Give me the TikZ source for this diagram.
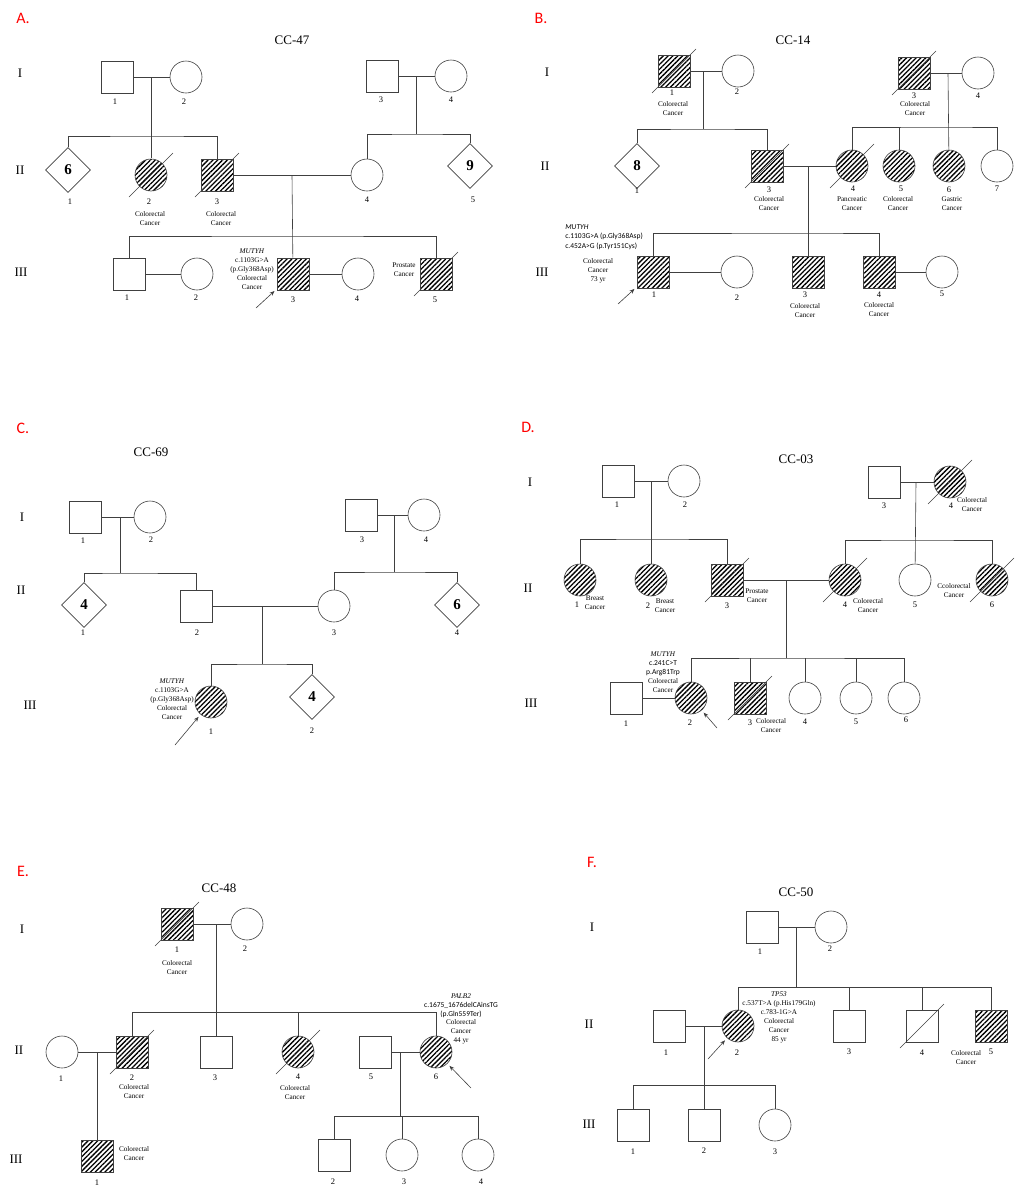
\documentclass[tikz,border=0pt]{standalone}
\usepackage{fontspec}
\setmainfont{Liberation Serif}
\newfontfamily\carl{Carlito}
\usetikzlibrary{shapes.geometric,patterns.meta,arrows.meta}
\tikzset{
  male/.style={draw,rectangle,minimum size=32pt,inner sep=0pt},
  female/.style={draw,circle,minimum size=32pt,inner sep=0pt},
  unk/.style={draw,diamond,minimum size=45pt,inner sep=0pt,font=\fontsize{15}{15}\selectfont\bfseries},
  aff/.style={pattern={Lines[angle=45,distance=3.4pt,line width=1.3pt]}},
  num/.style={font=\fontsize{8.5}{8.5}\selectfont,inner sep=0pt},
  note/.style={font=\fontsize{7.2}{9}\selectfont,align=center,inner sep=0pt},
  gen/.style={font=\fontsize{13}{13}\selectfont,inner sep=0pt},
  ttl/.style={font=\fontsize{13}{13}\selectfont,inner sep=0pt},
  panel/.style={font=\carl\fontsize{16}{16}\selectfont,text=red,inner sep=0pt},
  pb/.style={-{Stealth[length=5pt,width=4pt]},shorten >=3pt}
}
\newcommand{\dec}[1]{\draw (#1.center) ++(-22,22) -- ++(44,-44);}
\begin{document}
\begin{tikzpicture}[x=1pt,y=-1pt,line width=0.6pt,every path/.style={draw=black!75}]
\path[use as bounding box,draw=none] (0,0) rectangle (1023,1200);
% ---------- A: CC-47
\node[panel] (pA) at (23,18) {A.};
\node[ttl] (tA) at (292,40) {CC-47};
\node[gen] (gA1) at (20,73) {I};
\node[gen] (gA2) at (20,170) {II};
\node[gen] (gA3) at (21,272) {III};
\node[male] (A11) at (117,77) {};
\node[female] (A12) at (186,77) {};
\node[male] (A13) at (382,76) {};
\node[female] (A14) at (451,76) {};
\node[unk] (A21) at (68,170) {6};
\node[female,aff] (A22) at (151,175) {};
\node[male,aff] (A23) at (217,175) {};
\node[female] (A24) at (367,175) {};
\node[unk] (A25) at (470,166) {9};
\node[male] (A31) at (129,274) {};
\node[female] (A32) at (197,274) {};
\node[male,aff] (A33) at (293,274) {};
\node[female] (A34) at (358,274) {};
\node[male,aff] (A35) at (436,274) {};
\dec{A22}\dec{A23}\dec{A35}
\coordinate (Am1) at (151,77); \coordinate (As1) at (151,136);
\coordinate (Am2) at (416,76); \coordinate (As2) at (416,134);
\coordinate (Am3) at (292,175); \coordinate (As3) at (292,236);
\draw (A11) -- (A12); \draw (A13) -- (A14);
\draw (Am1) -- (A22); \draw (A21) |- (As1) -| (A23);
\draw (Am2) -- (As2); \draw (A24) |- (As2) -| (A25);
\draw (A23) -- (A24); \draw (Am3) -- (A33);
\draw (A31) |- (As3) -| (A35);
\draw (A31) -- (A32); \draw (A33) -- (A34);
\coordinate (Aa) at (256,308); \draw[pb] (Aa) -- (A33);
\node[num] (nA11) at (115,102) {1};
\node[num] (nA12) at (184,102) {2};
\node[num] (nA13) at (381,100) {3};
\node[num] (nA14) at (451,100) {4};
\node[num] (nA21) at (70,202) {1};
\node[num] (nA22) at (149,202) {2};
\node[num] (nA23) at (217,202) {3};
\node[num] (nA24) at (367,200) {4};
\node[num] (nA25) at (473,200) {5};
\node[num] (nA31) at (127,298) {1};
\node[num] (nA32) at (196,298) {2};
\node[num] (nA33) at (293,300) {3};
\node[num] (nA34) at (357,299) {4};
\node[num] (nA35) at (435,300) {5};
\node[note] (xA22) at (150,219) {Colorectal\\Cancer};
\node[note] (xA23) at (221,219) {Colorectal\\Cancer};
\node[note] (xA33) at (252,269) {\textit{MUTYH}\\c.1103G>A\\(p.Gly368Asp)\\Colorectal\\Cancer};
\node[note] (xA35) at (404,270) {Prostate\\Cancer};
% ---------- B: CC-14
\node[panel] (pB) at (541,18) {B.};
\node[ttl] (tB) at (793,40) {CC-14};
\node[gen] (gB1) at (547,72) {I};
\node[gen] (gB2) at (545,166) {II};
\node[gen] (gB3) at (542,272) {III};
\node[male,aff] (B11) at (674,71) {};
\node[female] (B12) at (738,71) {};
\node[male,aff] (B13) at (914,73) {};
\node[female] (B14) at (978,73) {};
\node[unk] (B21) at (637,166) {8};
\node[male,aff] (B23) at (767,166) {};
\node[female,aff] (B24) at (852,166) {};
\node[female,aff] (B25) at (899,166) {};
\node[female,aff] (B26) at (949,166) {};
\node[female] (B27) at (997,166) {};
\node[male,aff] (B31) at (653,272) {};
\node[female] (B32) at (737,272) {};
\node[male,aff] (B33) at (808,272) {};
\node[male,aff] (B34) at (879,272) {};
\node[female] (B35) at (942,272) {};
\dec{B11}\dec{B13}\dec{B23}\dec{B24}
\coordinate (Bm1) at (703,71); \coordinate (Bs1) at (703,129);
\coordinate (Bm2) at (948,73); \coordinate (Bs2) at (948,127);
\coordinate (Bm3) at (808,166); \coordinate (Bs3) at (808,233);
\draw (B11) -- (B12); \draw (B13) -- (B14);
\draw (Bm1) -- (Bs1); \draw (B21) |- (Bs1) -| (B23);
\draw (Bm2) -- (B26); \draw (B24) |- (Bs2) -| (B27); \draw (B25) -- (B25 |- Bs2);
\draw (B23) -- (B24); \draw (Bm3) -- (B33);
\draw (B31) |- (Bs3) -| (B34);
\draw (B31) -- (B32); \draw (B34) -- (B35);
\coordinate (Ba) at (618,304); \draw[pb] (Ba) -- (B31);
\node[num] (nB11) at (672,93) {1};
\node[num] (nB12) at (737,92) {2};
\node[num] (nB13) at (914,96) {3};
\node[num] (nB14) at (978,96) {4};
\node[num] (nB21) at (637,191) {1};
\node[num] (nB23) at (769,190) {3};
\node[num] (nB24) at (853,189) {4};
\node[num] (nB25) at (901,189) {5};
\node[num] (nB26) at (949,190) {6};
\node[num] (nB27) at (997,189) {7};
\node[num] (nB31) at (654,295) {1};
\node[num] (nB32) at (737,298) {2};
\node[num] (nB33) at (805,295) {3};
\node[num] (nB34) at (879,295) {4};
\node[num] (nB35) at (942,294) {5};
\node[note] (xB11) at (673,109) {Colorectal\\Cancer};
\node[note] (xB13) at (915,109) {Colorectal\\Cancer};
\node[note] (xB23) at (769,204) {Colorectal\\Cancer};
\node[note] (xB24) at (852,204) {Pancreatic\\Cancer};
\node[note] (xB25) at (898,204) {Colorectal\\Cancer};
\node[note] (xB26) at (952,204) {Gastric\\Cancer};
\node[note,align=left,anchor=north west,font=\carl\fontsize{7.5}{9.5}\selectfont] (xB31) at (565,224) {\textit{MUTYH}\\c.1103G>A (p.Gly368Asp)\\c.452A>G (p.Tyr151Cys)};
\node[note] (xB31b) at (598,271) {Colorectal\\Cancer\\73 yr};
\node[note] (xB33) at (805,311) {Colorectal\\Cancer};
\node[note] (xB34) at (879,310) {Colorectal\\Cancer};
% ---------- C: CC-69
\node[panel] (pC) at (23,428) {C.};
\node[ttl] (tC) at (151,452) {CC-69};
\node[gen] (gC1) at (22,517) {I};
\node[gen] (gC2) at (21,590) {II};
\node[gen] (gC3) at (30,705) {III};
\node[male] (C11) at (85,517) {};
\node[female] (C12) at (150,517) {};
\node[male] (C13) at (361,515) {};
\node[female] (C14) at (424,515) {};
\node[unk] (C21) at (84,605) {4};
\node[male] (C22) at (196,606) {};
\node[female] (C23) at (334,606) {};
\node[unk] (C24) at (457,605) {6};
\node[female,aff] (C31) at (211,702) {};
\node[unk] (C32) at (312,697) {4};
\coordinate (Cm1) at (120,517); \coordinate (Cs1) at (120,573);
\coordinate (Cm2) at (394,515); \coordinate (Cs2) at (394,572);
\coordinate (Cm3) at (262,606); \coordinate (Cs3) at (262,664);
\draw (C11) -- (C12); \draw (C13) -- (C14);
\draw (Cm1) -- (Cs1); \draw (C21) |- (Cs1) -| (C22);
\draw (Cm2) -- (Cs2); \draw (C23) |- (Cs2) -| (C24);
\draw (C22) -- (C23); \draw (Cm3) -- (Cs3);
\draw (C31) |- (Cs3) -| (C32);
\coordinate (Ca) at (175,745); \draw[pb] (Ca) -- (C31);
\node[num] (nC11) at (83,541) {1};
\node[num] (nC12) at (151,540) {2};
\node[num] (nC13) at (362,540) {3};
\node[num] (nC14) at (426,540) {4};
\node[num] (nC21) at (83,633) {1};
\node[num] (nC22) at (197,633) {2};
\node[num] (nC23) at (334,633) {3};
\node[num] (nC24) at (457,633) {4};
\node[num] (nC31) at (211,732) {1};
\node[num] (nC32) at (312,731) {2};
\node[note] (xC31) at (172,699) {\textit{MUTYH}\\c.1103G>A\\(p.Gly368Asp)\\Colorectal\\Cancer};
% ---------- D: CC-03
\node[panel] (pD) at (528,427) {D.};
\node[ttl] (tD) at (796,459) {CC-03};
\node[gen] (gD1) at (530,482) {I};
\node[gen] (gD2) at (528,588) {II};
\node[gen] (gD3) at (531,703) {III};
\node[male] (D11) at (618,481) {};
\node[female] (D12) at (684,481) {};
\node[male] (D13) at (884,482) {};
\node[female,aff] (D14) at (950,482) {};
\node[female,aff] (D21) at (580,580) {};
\node[female,aff] (D22) at (651,580) {};
\node[male,aff] (D23) at (727,580) {};
\node[female,aff] (D24) at (845,580) {};
\node[female] (D25) at (915,580) {};
\node[female,aff] (D26) at (992,580) {};
\node[male] (D31) at (626,698) {};
\node[female,aff] (D32) at (691,698) {};
\node[male,aff] (D33) at (750,698) {};
\node[female] (D34) at (805,698) {};
\node[female] (D35) at (856,698) {};
\node[female] (D36) at (904,698) {};
\dec{D14}\dec{D23}\dec{D24}\dec{D26}\dec{D33}
\coordinate (Dm1) at (651,481); \coordinate (Ds1) at (651,539);
\coordinate (Dm2) at (916,482); \coordinate (Ds2) at (916,540);
\coordinate (Dm3) at (786,580); \coordinate (Ds3) at (786,658);
\draw (D11) -- (D12); \draw (D13) -- (D14);
\draw (Dm1) -- (D22); \draw (D21) |- (Ds1) -| (D23);
\draw (Dm2) -- (D25); \draw (D24) |- (Ds2) -| (D26);
\draw (D23) -- (D24); \draw (Dm3) -- (Ds3);
\draw (D32) |- (Ds3) -| (D36);
\draw (D33) -- (D33 |- Ds3); \draw (D34) -- (D34 |- Ds3); \draw (D35) -- (D35 |- Ds3);
\draw (D31) -- (D32);
\coordinate (Da) at (717,728); \draw[pb] (Da) -- (D32);
\node[num] (nD11) at (617,505) {1};
\node[num] (nD12) at (685,505) {2};
\node[num] (nD13) at (884,506) {3};
\node[num] (nD14) at (951,506) {4};
\node[num] (nD21) at (577,605) {1};
\node[num] (nD22) at (648,606) {2};
\node[num] (nD23) at (727,606) {3};
\node[num] (nD24) at (845,605) {4};
\node[num] (nD25) at (915,605) {5};
\node[num] (nD26) at (992,605) {6};
\node[num] (nD31) at (626,724) {1};
\node[num] (nD32) at (690,723) {2};
\node[num] (nD33) at (750,723) {3};
\node[num] (nD34) at (805,722) {4};
\node[num] (nD35) at (856,722) {5};
\node[num] (nD36) at (906,720) {6};
\node[note] (xD14) at (972,505) {Colorectal\\Cancer};
\node[note] (xD21) at (595,603) {Breast\\Cancer};
\node[note] (xD22) at (665,606) {Breast\\Cancer};
\node[note] (xD23) at (757,596) {Prostate\\Cancer};
\node[note] (xD24) at (868,606) {Colorectal\\Cancer};
\node[note] (xD26) at (954,591) {Ccolorectal\\Cancer};
\node[note] (xD32a) at (663,654) {\textit{MUTYH}};
\node[note,font=\carl\fontsize{7.5}{9}\selectfont] (xD32b) at (663,668) {c.241C>T\\p.Arg81Trp};
\node[note] (xD32c) at (663,686) {Colorectal\\Cancer};
\node[note] (xD33) at (771,726) {Colorectal\\Cancer};
% ---------- E: CC-48
\node[panel] (pE) at (23,871) {E.};
\node[ttl] (tE) at (219,888) {CC-48};
\node[gen] (gE1) at (22,929) {I};
\node[gen] (gE2) at (19,1050) {II};
\node[gen] (gE3) at (16,1159) {III};
\node[male,aff] (E11) at (177,924) {};
\node[female] (E12) at (247,924) {};
\node[female] (E21) at (62,1052) {};
\node[male,aff] (E22) at (132,1052) {};
\node[male] (E23) at (216,1052) {};
\node[female,aff] (E24) at (298,1052) {};
\node[male] (E25) at (375,1052) {};
\node[female,aff] (E26) at (436,1052) {};
\node[male,aff] (E31) at (97,1156) {};
\node[male] (E32) at (334,1155) {};
\node[female] (E33) at (402,1155) {};
\node[female] (E34) at (478,1155) {};
\dec{E11}\dec{E22}\dec{E24}
\coordinate (Em1) at (216,924); \coordinate (Es1) at (216,1012);
\coordinate (Em2) at (97,1052);
\coordinate (Em3) at (400,1052); \coordinate (Es3) at (400,1116);
\draw (E11) -- (E12); \draw (Em1) -- (E23);
\draw (E22) |- (Es1) -| (E26); \draw (E24) -- (E24 |- Es1);
\draw (E21) -- (E22); \draw (Em2) -- (E31);
\draw (E25) -- (E26); \draw (Em3) -- (Es3);
\draw (E32) |- (Es3) -| (E34); \draw (E33) -- (E33 |- Es3);
\coordinate (Ea) at (471,1088); \draw[pb] (Ea) -- (E26);
\node[num] (nE11) at (177,950) {1};
\node[num] (nE12) at (245,949) {2};
\node[num] (nE21) at (61,1079) {1};
\node[num] (nE22) at (132,1078) {2};
\node[num] (nE23) at (215,1078) {3};
\node[num] (nE24) at (298,1077) {4};
\node[num] (nE25) at (371,1077) {5};
\node[num] (nE26) at (436,1077) {6};
\node[num] (nE31) at (97,1183) {1};
\node[num] (nE32) at (333,1182) {2};
\node[num] (nE33) at (404,1182) {3};
\node[num] (nE34) at (481,1182) {4};
\node[note] (xE11) at (177,968) {Colorectal\\Cancer};
\node[note] (xE22) at (134,1092) {Colorectal\\Cancer};
\node[note] (xE24) at (295,1093) {Colorectal\\Cancer};
\node[note] (xE31) at (134,1154) {Colorectal\\Cancer};
\node[note] (xE26a) at (461,996) {\textit{PALB2}};
\node[note,font=\carl\fontsize{7.5}{9}\selectfont] (xE26b) at (461,1010) {c.1675\_1676delCAinsTG\\(p.Gln559Ter)};
\node[note] (xE26c) at (461,1032) {Colorectal\\Cancer\\44 yr};
% ---------- F: CC-50
\node[panel] (pF) at (592,862) {F.};
\node[ttl] (tF) at (796,892) {CC-50};
\node[gen] (gF1) at (592,927) {I};
\node[gen] (gF2) at (589,1024) {II};
\node[gen] (gF3) at (589,1124) {III};
\node[male] (F11) at (762,927) {};
\node[female] (F12) at (831,927) {};
\node[male] (F21) at (669,1026) {};
\node[female,aff] (F22) at (738,1026) {};
\node[male] (F23) at (849,1026) {};
\node[male] (F24) at (922,1026) {};
\node[male,aff] (F25) at (991,1026) {};
\node[male] (F31) at (633,1125) {};
\node[male] (F32) at (704,1125) {};
\node[female] (F33) at (775,1125) {};
\dec{F24}
\coordinate (Fm1) at (796,927); \coordinate (Fs1) at (796,987);
\coordinate (Fm2) at (704,1026); \coordinate (Fs2) at (704,1085);
\draw (F11) -- (F12); \draw (Fm1) -- (Fs1);
\draw (F22) |- (Fs1) -| (F25);
\draw (F23) -- (F23 |- Fs1); \draw (F24) -- (F24 |- Fs1);
\draw (F21) -- (F22); \draw (Fm2) -- (F32);
\draw (F31) |- (Fs2) -| (F33);
\coordinate (Fa) at (708,1059); \draw[pb] (Fa) -- (F22);
\node[num] (nF11) at (760,952) {1};
\node[num] (nF12) at (830,949) {2};
\node[num] (nF21) at (666,1053) {1};
\node[num] (nF22) at (737,1053) {2};
\node[num] (nF23) at (849,1052) {3};
\node[num] (nF24) at (922,1053) {4};
\node[num] (nF25) at (991,1052) {5};
\node[num] (nF31) at (633,1152) {1};
\node[num] (nF32) at (704,1151) {2};
\node[num] (nF33) at (775,1152) {3};
\node[note] (xF22) at (779,1017) {\textit{TP53}\\c.537T>A (p.His179Gln)\\c.783-1G>A\\Colorectal\\Cancer\\85 yr};
\node[note] (xF25) at (966,1058) {Colorectal\\Cancer};
\end{tikzpicture}
\end{document}
